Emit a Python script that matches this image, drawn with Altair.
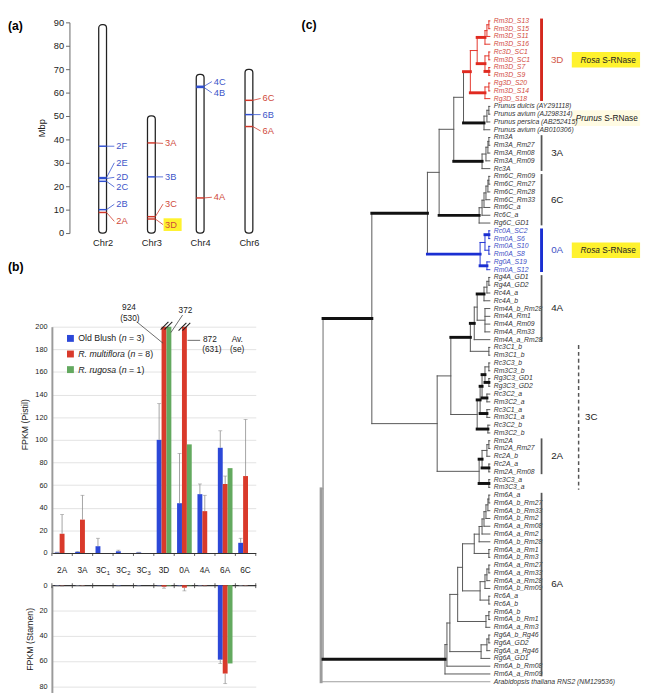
import re
import altair as alt
import pandas as pd

FONT = "Liberation Sans"
C_RED, C_BLUE, C_GREEN = "#d93a2b", "#2c48d8", "#63a95f"

# ================= (a) chromosome map data =================
CHROMS = ["Chr2", "Chr3", "Chr4", "Chr6"]
CHROM_LEN = [89.0, 50.1, 67.8, 69.9]
LOCUS_NAME = ["2A", "2B", "2C", "2D", "2E", "2F", "3A", "3B", "3C", "3D",
              "4A", "4B", "4C", "6A", "6B", "6C"]
LOCUS_CHR = ["Chr2", "Chr2", "Chr2", "Chr2", "Chr2", "Chr2", "Chr3", "Chr3",
             "Chr3", "Chr3", "Chr4", "Chr4", "Chr4", "Chr6", "Chr6", "Chr6"]
LOCUS_MBP = [8.8, 10.0, 22.1, 23.3, 23.7, 37.1, 38.5, 24.0, 7.0, 6.0,
             15.0, 62.2, 62.7, 45.5, 50.6, 56.7]
LOCUS_LABEL_MBP = [5.0, 12.3, 19.7, 23.8, 30.0, 37.1, 38.3, 24.0, 12.4, 3.6,
                   15.3, 59.9, 64.7, 43.6, 50.6, 57.5]
LOCUS_TYPE = ["red", "blue", "blue", "blue", "blue", "blue", "red", "blue",
              "red", "red", "red", "blue", "blue", "red", "blue", "red"]
HIGHLIGHT = ["3D"]

# ================= (b) expression data =================
CATS = ["2A", "3A", "3C₁", "3C₂", "3C₃", "3D", "0A", "4A", "6A", "6C"]
SERIES = ["Old Blush", "R. multiflora", "R. rugosa"]
SERIES_N = [3, 8, 1]
PISTIL_OB = [0.5, 1.0, 6.0, 1.5, 0.5, 100.0, 44.0, 52.0, 93.0, 9.0]
PISTIL_OB_SE = [0.3, 0.4, 7.0, 1.0, 0.2, 32.0, 44.0, 9.0, 15.0, 4.0]
PISTIL_RM = [17.0, 29.5, 0.0, 0.0, 0.0, 924.0, 872.0, 37.0, 61.0, 68.0]
PISTIL_RM_SE = [17.0, 21.5, 0.0, 0.0, 0.0, 530.0, 631.0, 14.0, 7.0, 50.0]
PISTIL_RR = [0.0, 0.0, 0.0, 0.0, 0.0, 372.0, 96.0, 0.0, 75.0, 0.0]
PISTIL_RR_SE = [0.0, 0.0, 0.0, 0.0, 0.0, 0.0, 0.0, 0.0, 0.0, 0.0]
STAMEN_OB = [0.2, 0.1, 0.0, 0.3, 0.2, 0.3, 0.3, 0.2, 59.0, 0.1]
STAMEN_OB_SE = [0.3, 0.2, 0.0, 0.3, 0.3, 0.3, 0.3, 0.3, 3.0, 0.2]
STAMEN_RM = [0.3, 0.2, 0.0, 0.0, 0.0, 1.2, 2.0, 0.3, 70.0, 0.2]
STAMEN_RM_SE = [0.4, 0.3, 0.0, 0.0, 0.0, 1.2, 2.5, 0.4, 8.0, 0.3]
STAMEN_RR = [0.0, 0.0, 0.0, 0.0, 0.0, 0.5, 0.3, 0.0, 62.0, 0.0]
STAMEN_RR_SE = [0.0, 0.0, 0.0, 0.0, 0.0, 0.0, 0.0, 0.0, 0.0, 0.0]

# ================= (c) tree data =================
LEAVES_3D = ["Rm3D_S13", "Rm3D_S15", "Rm3D_S11", "Rm3D_S16", "Rc3D_SC1", "Rm3D_SC1",
             "Rm3D_S7", "Rm3D_S9", "Rg3D_S20", "Rm3D_S14", "Rg3D_S18"]
LEAVES_PRUNUS = ["Prunus dulcis (AY291118)", "Prunus avium (AJ298314)",
                 "Prunus persica (AB252415)", "Prunus avium (AB010306)"]
LEAVES_3A = ["Rm3A", "Rm3A_Rm27", "Rm3A_Rm08", "Rm3A_Rm09", "Rc3A"]
LEAVES_6C = ["Rm6C_Rm09", "Rm6C_Rm27", "Rm6C_Rm28", "Rm6C_Rm33", "Rm6C_a", "Rc6C_a", "Rg6C_GD1"]
LEAVES_0A = ["Rc0A_SC2", "Rm0A_S6", "Rm0A_S10", "Rm0A_S8", "Rg0A_S19", "Rm0A_S12"]
LEAVES_4A = ["Rg4A_GD1", "Rg4A_GD2", "Rc4A_a", "Rc4A_b", "Rm4A_b_Rm28", "Rm4A_Rm1",
             "Rm4A_Rm09", "Rm4A_Rm33", "Rm4A_a_Rm28"]
LEAVES_3C = ["Rc3C1_b", "Rm3C1_b", "Rc3C3_b", "Rm3C3_b", "Rg3C3_GD1", "Rg3C3_GD2",
             "Rc3C2_a", "Rm3C2_a", "Rc3C1_a", "Rm3C1_a", "Rc3C2_b", "Rm3C2_b"]
LEAVES_2A = ["Rm2A", "Rm2A_Rm27", "Rc2A_b", "Rc2A_a", "Rm2A_Rm08", "Rc3C3_a", "Rm3C3_a"]
LEAVES_6A = ["Rm6A_a", "Rm6A_b_Rm27", "Rm6A_b_Rm33", "Rm6A_b_Rm2", "Rm6A_a_Rm08",
             "Rm6A_a_Rm2", "Rm6A_b_Rm28", "Rm6A_a_Rm1", "Rm6A_b_Rm3", "Rm6A_a_Rm27",
             "Rm6A_a_Rm33", "Rm6A_a_Rm28", "Rm6A_b_Rm09", "Rc6A_a", "Rc6A_b", "Rm6A_b",
             "Rm6A_b_Rm1", "Rm6A_a_Rm3", "Rg6A_b_Rg46", "Rg6A_GD2", "Rg6A_a_Rg46",
             "Rg6A_GD1", "Rm6A_b_Rm08", "Rm6A_a_Rm09"]
LEAVES_OUT = ["Arabidopsis thaliana RNS2 (NM129536)"]
LEAVES = (LEAVES_3D + LEAVES_PRUNUS + LEAVES_3A + LEAVES_6C + LEAVES_0A + LEAVES_4A
          + LEAVES_3C + LEAVES_2A + LEAVES_6A + LEAVES_OUT)

# newick-like subtrees: leaves are indices into LEAVES, number after ")" is the
# node's distance from the root, "*" marks a strongly supported (thick) branch
TIP = 173
NWK_3D = "(((((0,1)172,2)170,3)168*,((4,5)172,(6,7)172*)168*)160,((8,9)172,10)168*)153*"
NWK_PRUNUS = "(((11,12)172,13)170,14)167*"
NWK_3A = "((((15,16)172,17)171,18)169,19)165*"
NWK_6C = "((((((20,21)172,22)171,23)169,24)167,25)165,26)162*"
NWK_0A = "(((27,28)172*,(29,30)172)168,(31,32)170*)163*"
NWK_4A = "((((((33,34)172,35)170,36)167*,(37,38,39,40)168)160,41)157*,(42,43)172)153*"
NWK_3C = "(((((44,45)172,(46,47)172*)168*,(48,49)170*)165*,(50,51)170*)163*,(52,53)171*)160"
NWK_2A = "((((54,55)172,56)170,(57,58)172*)165*,(59,60)172*)162"
NWK_6A_TOP = "(((((((61,62)172,63)171,64)169,65)167,66)165,67)162,(68,69)172)157"
NWK_6A_MID = "((((70,71)172,72)170,73)168,(74,75)172)163"
NWK_6A_U = "((76,77)172,78)169"
NWK_6A_RG = "(((79,80)172,81)170,82)164"

NWK_6A = ("((((" + "(" + NWK_6A_TOP + "," + NWK_6A_MID + ")145," + NWK_6A_U + ")140,"
          + NWK_6A_RG + ")132,83)129,84)127*")
NWK = ("(((((((" + NWK_3D + "," + NWK_PRUNUS + ")146," + NWK_3A + ")136," + NWK_6C + ")121,"
       + NWK_0A + ")109*,((" + NWK_4A + "," + NWK_3C + ")133," + NWK_2A + ")119)52*,"
       + NWK_6A + ")2,85)0")

CLADE_NAME = ["3D", "3A", "6C", "0A", "4A", "2A", "6A"]
CLADE_FIRST = [0, 15, 20, 27, 33, 54, 61]
CLADE_LAST = [10, 19, 26, 32, 41, 58, 84]
DASHED_CLADE = ("3C", 42, 60)

# ================= helpers =================
CHAR_W = {" ": 278, "(": 333, ")": 333, ".": 278, "-": 333, "=": 584,
          "A": 667, "B": 667, "C": 722, "D": 722, "N": 722, "O": 778, "P": 667,
          "R": 722, "S": 667,
          "a": 556, "d": 556, "e": 556, "f": 278, "g": 556, "h": 556, "i": 222,
          "l": 222, "m": 833, "n": 556, "o": 556, "r": 333, "s": 500, "t": 278, "u": 556}
SUBSCRIPTS = {"₀": "0", "₁": "1", "₂": "2", "₃": "3", "₄": "4"}


def text_w(s, fs):
    return sum(CHAR_W.get(c, 556) for c in s) * fs / 1000.0


def rich(parts, x0, fs, **extra):
    rows, x = [], x0
    for txt, ital in parts:
        core = txt.strip(" ")
        lead = len(txt) - len(txt.lstrip(" "))
        trail = len(txt) - len(txt.rstrip(" "))
        x += text_w(" " * lead, fs)
        rows.append(dict(px=x, t=core, italic=ital, **extra))
        x += text_w(core, fs) + text_w(" " * trail, fs)
    return rows


def rich_layers(df, fs, y_enc, color="#222"):
    out = []
    for ital in (False, True):
        sub = df[df["italic"] == ital]
        if len(sub):
            out.append(alt.Chart(sub).mark_text(
                align="left", baseline="middle", fontSize=fs,
                fontStyle="italic" if ital else "normal", color=color
            ).encode(x=alt.X("px:Q", scale=None), y=y_enc, text="t:N"))
    return out


def panel_label(txt, x, y):
    return alt.Chart(pd.DataFrame({"t": [txt]})).mark_text(
        align="left", baseline="middle", fontSize=12.5, fontWeight="bold", color="black"
    ).encode(x=alt.value(x), y=alt.value(y), text="t:N")


# ================= (a) =================
W_A, H_A = 254, 216
chrom_df = pd.DataFrame({"chr": CHROMS, "ci": list(range(len(CHROMS))),
                         "start": [0.0] * len(CHROMS), "len": CHROM_LEN})
ci_map = {c: i for i, c in enumerate(CHROMS)}
loc_df = pd.DataFrame({"name": LOCUS_NAME, "chr": LOCUS_CHR, "pos": LOCUS_MBP,
                       "lab": LOCUS_LABEL_MBP, "typ": LOCUS_TYPE})
loc_df["ci"] = loc_df["chr"].map(ci_map)
loc_df["lcol"] = loc_df["typ"].map({"red": "#d2382a", "blue": "#3050d2"})
loc_df["tcol"] = loc_df["typ"].map({"red": "#cf4a3b", "blue": "#3d55c8"})

xa = alt.Scale(domain=[-1.04, 4.04], nice=False)
ya = alt.Scale(domain=[0, 90], nice=False)
label_expr = "[" + ",".join("'%s'" % c for c in CHROMS) + "][datum.value]"
x_axis_a = alt.Axis(values=list(range(len(CHROMS))), labelExpr=label_expr, domain=False,
                    ticks=False, grid=False, title="",
                    labelFontSize=9.5, labelPadding=5, labelColor="#222")
y_axis_a = alt.Axis(values=list(range(0, 91, 10)), offset=-18, grid=False, domainColor="#666",
                    tickColor="#666", tickSize=4, labelFontSize=9.5, labelColor="#222",
                    title="Mbp", titleFontSize=9.5, titleFontWeight="normal",
                    titleColor="#222", titlePadding=7)
XA = alt.X("ci:Q", scale=xa, axis=x_axis_a)


def YA(f):
    return alt.Y(f, scale=ya, axis=y_axis_a)


chrom_layer = alt.Chart(chrom_df).mark_rect(
    fill="white", stroke="#222", strokeWidth=1.3, cornerRadius=3.5, xOffset=-4, x2Offset=4
).encode(x=XA, x2=alt.X2("ci"), y=YA("start:Q"), y2=alt.Y2("len"))

hl_layer = alt.Chart(loc_df[loc_df["name"].isin(HIGHLIGHT)]).mark_rect(
    color="#fff22e", xOffset=12.5, x2Offset=31, yOffset=-6.5, y2Offset=6.5
).encode(x=XA, x2=alt.X2("ci"), y=YA("lab:Q"), y2=alt.Y2("lab"))

loc_lines = alt.Chart(loc_df).mark_rule(strokeWidth=1.5, xOffset=-4, x2Offset=4).encode(
    x=XA, x2=alt.X2("ci"), y=YA("pos:Q"), color=alt.Color("lcol:N", scale=None))
leaders = alt.Chart(loc_df).mark_rule(strokeWidth=0.8, xOffset=4, x2Offset=12).encode(
    x=XA, x2=alt.X2("ci"), y=YA("pos:Q"), y2=alt.Y2("lab"),
    color=alt.Color("lcol:N", scale=None))
loc_text = alt.Chart(loc_df).mark_text(align="left", baseline="middle", dx=14, fontSize=9.5).encode(
    x=XA, y=YA("lab:Q"), text="name:N", color=alt.Color("tcol:N", scale=None))

chart_a = alt.layer(chrom_layer, hl_layer, loc_lines, leaders, loc_text,
                    panel_label("(a)", -45, 4)).properties(width=W_A, height=H_A)

# ================= (b) =================
W_B, H_P, H_S = 209, 232, 110
STEP = W_B / len(CATS)


def long_df(vals, ses):
    rows = []
    for s, v_list, e_list in zip(SERIES, vals, ses):
        for c, v, e in zip(CATS, v_list, e_list):
            rows.append(dict(cat=c, series=s, value=v, se=e, top=v + e))
    return pd.DataFrame(rows)


pist = long_df([PISTIL_OB, PISTIL_RM, PISTIL_RR], [PISTIL_OB_SE, PISTIL_RM_SE, PISTIL_RR_SE])
stam = long_df([STAMEN_OB, STAMEN_RM, STAMEN_RR], [STAMEN_OB_SE, STAMEN_RM_SE, STAMEN_RR_SE])
P_MAX, S_MAX = 200, 85

xb = alt.Scale(domain=CATS, paddingInner=0.28, paddingOuter=0.14)
xoff = alt.XOffset("series:N", scale=alt.Scale(domain=SERIES, paddingInner=0, paddingOuter=0))
col = alt.Color("series:N", scale=alt.Scale(domain=SERIES, range=[C_BLUE, C_RED, C_GREEN]), legend=None)
cat_df = pd.DataFrame({"cat": CATS})


def bar_panel(df, yscale, yaxis, xaxis, ymax, tick_y):
    X = alt.X("cat:N", scale=xb, axis=xaxis)
    bars = alt.Chart(df).mark_bar().encode(
        x=X, xOffset=xoff, y=alt.Y("value:Q", scale=yscale, axis=yaxis), color=col)
    err = df[(df["se"] > 0) & (df["top"] <= ymax)]
    e_rule = alt.Chart(err).mark_rule(color="#8c8c8c", strokeWidth=0.8).encode(
        x=X, xOffset=xoff, y=alt.Y("value:Q", scale=yscale, axis=yaxis), y2=alt.Y2("top"))
    e_cap = alt.Chart(err).mark_tick(color="#8c8c8c", thickness=0.8, size=4).encode(
        x=X, xOffset=xoff, y=alt.Y("top:Q", scale=yscale, axis=yaxis))
    XB = alt.X("cat:N", scale=xb, axis=xaxis, bandPosition=0.5)
    tk = alt.Chart(cat_df).mark_rule(color="#333", strokeWidth=0.8, xOffset=-STEP / 2).encode(
        x=XB, y=alt.value(tick_y[0]), y2=alt.value(tick_y[1]))
    tk_end = alt.Chart(cat_df.tail(1)).mark_rule(color="#333", strokeWidth=0.8, xOffset=STEP / 2).encode(
        x=XB, y=alt.value(tick_y[0]), y2=alt.value(tick_y[1]))
    return [bars, e_rule, e_cap, tk, tk_end]


yp = alt.Scale(domain=[0, P_MAX], clamp=True, nice=False)
yp_axis = alt.Axis(values=list(range(0, P_MAX + 1, 20)), grid=True, gridColor="#e2e2e2",
                   domainColor="#9a9a9a", domainWidth=2, ticks=False, labelFontSize=7.5,
                   labelColor="#222", labelPadding=5, title="FPKM (Pistil)", titleFontSize=9,
                   titleFontWeight="normal", titleColor="#222", titlePadding=5, titleY=100)
xp_axis = alt.Axis(orient="bottom", labels=False, domainColor="#333", domainWidth=1.2,
                   ticks=False, title="", grid=False)

ys = alt.Scale(domain=[0, S_MAX], reverse=True, nice=False)
ys_axis = alt.Axis(values=list(range(0, 81, 20)), grid=True, gridColor="#e2e2e2",
                   domainColor="#9a9a9a", domainWidth=2, ticks=False, labelFontSize=7.5,
                   labelColor="#222", labelPadding=5, title="FPKM (Stamen)", titleFontSize=9,
                   titleFontWeight="normal", titleColor="#222", titlePadding=5)
xs_axis = alt.Axis(orient="top", labels=False, domainColor="#333", domainWidth=1.2,
                   ticks=False, title="", grid=False)

# category labels (locus name with a real subscript drawn smaller and lower)
CAT_FS, SUB_FS = 8.5, 6
lab_df = pd.DataFrame({"cat": CATS})
lab_df["base"] = [re.sub("[₀-₉]", "", c) for c in CATS]
lab_df["sub"] = ["".join(SUBSCRIPTS.get(ch, "") for ch in c) for c in CATS]
plain_lab = lab_df[lab_df["sub"] == ""]
sub_lab = lab_df[lab_df["sub"] != ""]
wb = text_w(sub_lab["base"].iloc[0], CAT_FS)
ws = text_w(sub_lab["sub"].iloc[0], SUB_FS)
LAB_Y = H_P + 18
XL = alt.X("cat:N", scale=xb, axis=xp_axis)
cat_label_layers = [
    alt.Chart(plain_lab).mark_text(fontSize=CAT_FS, baseline="middle", color="#222").encode(
        x=XL, y=alt.value(LAB_Y), text="base:N"),
    alt.Chart(sub_lab).mark_text(fontSize=CAT_FS, baseline="middle", align="left",
                                 dx=-(wb + ws) / 2, color="#222").encode(
        x=XL, y=alt.value(LAB_Y), text="base:N"),
    alt.Chart(sub_lab).mark_text(fontSize=SUB_FS, baseline="middle", align="left",
                                 dx=-(wb + ws) / 2 + wb + 0.3, dy=2.5, color="#222").encode(
        x=XL, y=alt.value(LAB_Y), text="sub:N"),
]

# annotations for the clipped bars
i3d, i0a = CATS.index("3D"), CATS.index("0A")
ann_txt = pd.DataFrame([
    dict(t="%g" % PISTIL_RM[i3d], px=79, py=-20),
    dict(t="(%g)" % PISTIL_RM_SE[i3d], px=80, py=-9),
    dict(t="%g" % PISTIL_RR[i3d], px=137, py=-17),
    dict(t="%g" % PISTIL_RM[i0a], px=162, py=13),
    dict(t="(%g)" % PISTIL_RM_SE[i0a], px=164, py=23),
    dict(t="Av.", px=190, py=13),
    dict(t="(se)", px=190, py=23),
])
ann_lead = pd.DataFrame([
    dict(x=87, y=-5, x2=114, y2=17),
    dict(x=134, y=-12, x2=122, y2=6),
    dict(x=139, y=14, x2=152, y2=14),
])
brk = []
for cx, cy in [((i3d + 0.62) * STEP, -1), ((i0a + 0.5) * STEP, 0)]:
    brk.append(dict(x=cx - 6, y=cy + 4, x2=cx + 2, y2=cy - 4))
    brk.append(dict(x=cx - 2, y=cy + 4, x2=cx + 6, y2=cy - 4))
brk = pd.DataFrame(brk)


def px_rules(df, color, width):
    return alt.Chart(df).mark_rule(color=color, strokeWidth=width).encode(
        x=alt.X("x:Q", scale=None), x2=alt.X2("x2"),
        y=alt.Y("y:Q", scale=None), y2=alt.Y2("y2"))


ann_text_layer = alt.Chart(ann_txt).mark_text(fontSize=8.5, color="#222", baseline="middle").encode(
    x=alt.X("px:Q", scale=None), y=alt.Y("py:Q", scale=None), text="t:N")

# legend
LEG_FS = 9
leg_rows, leg_sq = [], []
for i, (s, n) in enumerate(zip(SERIES, SERIES_N)):
    py = 12 + i * 16
    sp = s != "Old Blush"
    parts = [(s, sp), (" (", False), ("n", True), (" = %d)" % n, False)]
    leg_rows += rich(parts, 27, LEG_FS, py=py)
    leg_sq.append(dict(series=s, px=19, py=py))
leg_df = pd.DataFrame(leg_rows)
leg_sq_layer = alt.Chart(pd.DataFrame(leg_sq)).mark_square(size=50, opacity=1).encode(
    x=alt.X("px:Q", scale=None), y=alt.Y("py:Q", scale=None), color=col)

pistil = alt.layer(
    *bar_panel(pist, yp, yp_axis, xp_axis, P_MAX, (H_P, H_P + 3)),
    *cat_label_layers,
    px_rules(ann_lead, "#444", 0.8), px_rules(brk, "#222", 1.1), ann_text_layer,
    leg_sq_layer, *rich_layers(leg_df, LEG_FS, alt.Y("py:Q", scale=None)),
    panel_label("(b)", -45, -61),
).properties(width=W_B, height=H_P)

stamen = alt.layer(
    *bar_panel(stam, ys, ys_axis, xs_axis, S_MAX, (-2, 3)),
).properties(width=W_B, height=H_S)

# ================= (c) tree =================
W_T, H_T = 330, 683


def parse_newick(s):
    pos = 0

    def node():
        nonlocal pos
        if s[pos] == "(":
            pos += 1
            kids = [node()]
            while s[pos] == ",":
                pos += 1
                kids.append(node())
            pos += 1
            m = re.match(r"(\d+(?:\.\d+)?)(\*?)", s[pos:])
            pos += m.end()
            return {"kids": kids, "x": float(m.group(1)), "thick": bool(m.group(2))}
        m = re.match(r"(\d+)(\*?)", s[pos:])
        pos += m.end()
        return {"leaf": int(m.group(1)), "x": float(TIP), "thick": bool(m.group(2))}

    return node()


root = parse_newick(NWK)


def layout(n):
    if "leaf" in n:
        n["y"] = float(n["leaf"])
        n["leaves"] = {n["leaf"]}
    else:
        for k in n["kids"]:
            layout(k)
        n["y"] = (n["kids"][0]["y"] + n["kids"][-1]["y"]) / 2
        n["leaves"] = set().union(*[k["leaves"] for k in n["kids"]])


layout(root)
o0a = LEAVES.index(LEAVES_0A[0])
SET_3D = set(range(0, len(LEAVES_3D)))
SET_0A = set(range(o0a, o0a + len(LEAVES_0A)))
BR_COL = {"3D": "#e3342a", "0A": "#2437d4", "other": "#555555", "base": "#9c9c9c"}
THICK_COL = {"3D": "#e02a20", "0A": "#1a2fd2", "other": "#111111"}
LB_COL = {"3D": "#d24a3e", "0A": "#3e4fc6", "other": "#333333"}


def grp(n):
    if n["leaves"] <= SET_3D:
        return "3D"
    if n["leaves"] <= SET_0A:
        return "0A"
    return "other"


segs = []


def walk(n, parent=None):
    g = grp(n)
    if parent is not None:
        c = THICK_COL[g] if n["thick"] else BR_COL[g]
        if parent["x"] < 10 and not n["thick"]:
            c = BR_COL["base"]
        segs.append(dict(x=parent["x"], x2=n["x"], y=n["y"], y2=n["y"], col=c,
                         w=3.0 if n["thick"] else 1.0))
    if "kids" in n:
        if n["x"] < 10:
            vc, vw = BR_COL["base"], (3.0 if parent is None else 1.5)
        else:
            vc, vw = BR_COL[g], 1.0
        segs.append(dict(x=n["x"], x2=n["x"], y=n["kids"][0]["y"], y2=n["kids"][-1]["y"],
                         col=vc, w=vw))
        for k in n["kids"]:
            walk(k, n)


walk(root)
seg_df = pd.DataFrame(segs)
seg_df = seg_df.sort_values("w", kind="stable")

leaf_df = pd.DataFrame({"name": LEAVES, "idx": list(range(len(LEAVES))),
                        "x": [float(TIP)] * len(LEAVES)})
leaf_df["col"] = [LB_COL["3D"] if i in SET_3D else LB_COL["0A"] if i in SET_0A else LB_COL["other"]
                  for i in leaf_df["idx"]]

xt = alt.Scale(domain=[0, W_T], nice=False)
yt = alt.Scale(domain=[0.19, 85.88], reverse=True, nice=False)

clade_df = pd.DataFrame({"name": CLADE_NAME, "first": CLADE_FIRST, "last": CLADE_LAST})
clade_df["y1"] = clade_df["first"] - 0.3
clade_df["y2"] = clade_df["last"] + 0.3
clade_df["yc"] = (clade_df["first"] + clade_df["last"]) / 2
clade_df["bcol"] = clade_df["name"].map({"3D": "#d4281e", "0A": "#1a2fd2"}).fillna("#555555")
clade_df["bw"] = clade_df["name"].map({"3D": 3.0, "0A": 3.0}).fillna(1.8)
clade_df["tcol"] = clade_df["name"].map({"3D": "#d2584a", "0A": "#4252c6"}).fillna("#222222")
dash_df = pd.DataFrame({"name": [DASHED_CLADE[0]], "y1": [DASHED_CLADE[1] - 0.3],
                        "y2": [DASHED_CLADE[2] + 0.3],
                        "yc": [(DASHED_CLADE[1] + DASHED_CLADE[2]) / 2]})

yc_3d = clade_df.loc[clade_df["name"] == "3D", "yc"].iloc[0]
yc_0a = clade_df.loc[clade_df["name"] == "0A", "yc"].iloc[0]
p0 = LEAVES.index(LEAVES_PRUNUS[0])
yc_pr = p0 + (len(LEAVES_PRUNUS) - 1) / 2
box_df = pd.DataFrame([dict(yc=yc_3d, fill="#fff22e"), dict(yc=yc_0a, fill="#fff22e"),
                       dict(yc=yc_pr, fill="#fffbe3")])
BOX_FS = 8.5
box_txt = pd.DataFrame(
    rich([("Rosa", True), (" S-RNase", False)], 266, BOX_FS, yc=yc_3d)
    + rich([("Rosa", True), (" S-RNase", False)], 266, BOX_FS, yc=yc_0a)
    + rich([("Prunus", True), (" S-RNase", False)], 261, BOX_FS, yc=yc_pr))

T_X = alt.X("x:Q", scale=xt, axis=None)
tree_layers = [
    alt.Chart(box_df).mark_rect(yOffset=-8, y2Offset=8).encode(
        x=alt.value(257), x2=alt.value(327),
        y=alt.Y("yc:Q", scale=yt, axis=None), y2=alt.Y2("yc"),
        color=alt.Color("fill:N", scale=None)),
    alt.Chart(seg_df).mark_rule(strokeCap="square").encode(
        x=T_X, x2=alt.X2("x2"), y=alt.Y("y:Q", scale=yt, axis=None), y2=alt.Y2("y2"),
        color=alt.Color("col:N", scale=None), strokeWidth=alt.StrokeWidth("w:Q", scale=None)),
    alt.Chart(leaf_df).mark_text(align="left", baseline="middle", dx=4, fontSize=7,
                                 fontStyle="italic").encode(
        x=T_X, y=alt.Y("idx:Q", scale=yt, axis=None), text="name:N",
        color=alt.Color("col:N", scale=None)),
    alt.Chart(clade_df).mark_rule().encode(
        x=alt.value(226), y=alt.Y("y1:Q", scale=yt, axis=None), y2=alt.Y2("y2"),
        color=alt.Color("bcol:N", scale=None), strokeWidth=alt.StrokeWidth("bw:Q", scale=None)),
    alt.Chart(clade_df).mark_text(fontSize=10, baseline="middle").encode(
        x=alt.value(242), y=alt.Y("yc:Q", scale=yt, axis=None), text="name:N",
        color=alt.Color("tcol:N", scale=None)),
    alt.Chart(dash_df).mark_rule(color="#555", strokeWidth=1.5, strokeDash=[4, 3]).encode(
        x=alt.value(264), y=alt.Y("y1:Q", scale=yt, axis=None), y2=alt.Y2("y2")),
    alt.Chart(dash_df).mark_text(fontSize=10, baseline="middle", color="#222").encode(
        x=alt.value(277), y=alt.Y("yc:Q", scale=yt, axis=None), text="name:N"),
    *rich_layers(box_txt, BOX_FS, alt.Y("yc:Q", scale=yt, axis=None)),
    panel_label("(c)", -20, 3),
]
tree = alt.layer(*tree_layers).properties(width=W_T, height=H_T)

# ================= assemble =================
# with flush bounds a nested concat counts as zero width, so the spacing carries
# the left column's width plus the gap
left = alt.vconcat(chart_a, alt.vconcat(pistil, stamen, spacing=33, bounds="flush"),
                   spacing=96, bounds="flush")
chart = alt.hconcat(left, tree, spacing=W_A + 22, bounds="flush").properties(
    padding=0
).configure(font=FONT).configure_view(strokeWidth=0)

chart.save("out.html", embed_options={"renderer": "svg", "actions": False})
